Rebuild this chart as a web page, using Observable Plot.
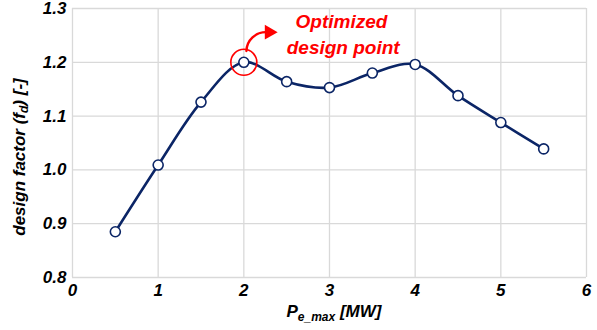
<!DOCTYPE html>
<html><head><meta charset="utf-8">
<script src="https://cdn.jsdelivr.net/npm/d3@7"></script>
<script src="https://cdn.jsdelivr.net/npm/@observablehq/plot@0.6"></script>
<style>body{margin:0;background:#fff;font-family:"Liberation Sans",Arial,sans-serif;}</style>
</head><body><div id="chart"></div>
<script>
const pMax = [0.5, 1, 1.5, 2, 2.5, 3, 3.5, 4, 4.5, 5, 5.5];
const designFactor = [0.885, 1.009, 1.126, 1.2, 1.164, 1.153, 1.180, 1.196, 1.138, 1.088, 1.039];
const xTicks = [0, 1, 2, 3, 4, 5, 6];
const yTicks = [0.8, 0.9, 1.0, 1.1, 1.2, 1.3];
const optimum = {x: 2, y: 1.2};
const noteLines = [{text: "Optimized", x: 3.14, y: 1.276}, {text: "design point", x: 3.16, y: 1.2275}];
const arrowPath = {x1: 2.03, y1: 1.221, x2: 2.264, y2: 1.256};
const arrowTip = {x: 2.295, y: 1.256};

const data = pMax.map((x, i) => ({x, y: designFactor[i]}));
const navy = "#0b2566";
const red = "#ff0000";
const chart = Plot.plot({
  width: 597, height: 330,
  marginLeft: 72, marginRight: 11, marginTop: 8, marginBottom: 53,
  style: {fontFamily: "'Liberation Sans', Arial, sans-serif", background: "#fff", overflow: "visible"},
  x: {domain: [0, 6], label: null},
  y: {domain: [0.8, 1.3], label: null},
  marks: [
    Plot.gridX(xTicks, {stroke: "#d9d9d9", strokeOpacity: 1, strokeWidth: 1.3}),
    Plot.gridY(yTicks, {stroke: "#d9d9d9", strokeOpacity: 1, strokeWidth: 1.3}),
    Plot.axisX({ticks: xTicks, tickSize: 0, tickPadding: 6, fontSize: 17, fontWeight: "bold", fontStyle: "italic", fill: "#000", tickFormat: d => d, label: null}),
    Plot.axisY({ticks: yTicks, tickSize: 0, tickPadding: 6, fontSize: 17, fontWeight: "bold", fontStyle: "italic", fill: "#000", tickFormat: d3.format(".1f"), label: null}),
    Plot.line(data, {x: "x", y: "y", curve: "catmull-rom", stroke: navy, strokeWidth: 2.6}),
    Plot.dot(data, {x: "x", y: "y", r: 5, fill: "#fff", stroke: navy, strokeWidth: 1.6}),
    Plot.dot([optimum], {x: "x", y: "y", r: 13, fill: "none", stroke: red, strokeWidth: 1.6}),
    Plot.arrow([arrowPath], {x1: "x1", y1: "y1", x2: "x2", y2: "y2", bend: 45, stroke: red, strokeWidth: 2.4, headLength: 0}),
    Plot.dot([arrowTip], {x: "x", y: "y", symbol: "triangle", r: 5.5, rotate: 90, fill: red, stroke: "none"}),
    Plot.text(noteLines, {x: "x", y: "y", text: "text", fill: red, fontSize: 19, fontWeight: "bold", fontStyle: "italic"})
  ]
});
document.getElementById("chart").appendChild(chart);

const svg = d3.select(chart);
const ff = "'Liberation Sans', Arial, sans-serif";
// y axis title
const yt = svg.append("text")
  .attr("transform", "translate(25,157) rotate(-90)")
  .attr("text-anchor", "middle")
  .attr("font-family", ff).attr("font-size", 17).attr("font-weight", "bold").attr("font-style", "italic").attr("fill", "#000");
yt.append("tspan").text("design factor (f");
yt.append("tspan").attr("font-size", 12).attr("dy", 3).text("d");
yt.append("tspan").attr("dy", -3).text(") [-]");
// x axis title
const xt = svg.append("text")
  .attr("x", 334).attr("y", 317)
  .attr("text-anchor", "middle")
  .attr("font-family", ff).attr("font-size", 17).attr("font-weight", "bold").attr("font-style", "italic").attr("fill", "#000");
xt.append("tspan").text("P");
xt.append("tspan").attr("font-size", 12).attr("dy", 4).text("e_max");
xt.append("tspan").attr("dy", -4).text(" [MW]");
</script></body></html>
